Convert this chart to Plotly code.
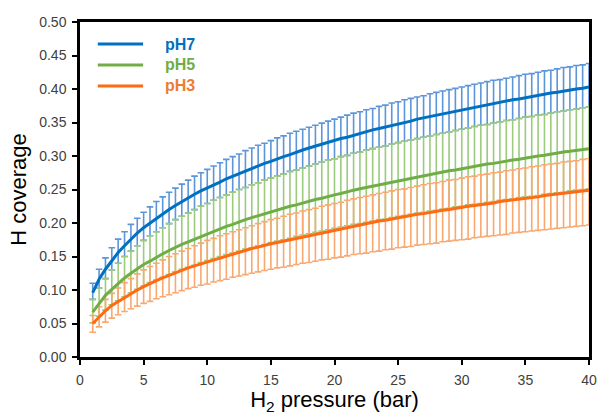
import plotly.graph_objects as go

# H2 pressure (bar)
pressure = [1, 1.5, 2, 2.5, 3, 3.5, 4, 4.5, 5, 5.5,
            6, 6.5, 7, 7.5, 8, 8.5, 9, 9.5, 10, 10.5,
            11, 11.5, 12, 12.5, 13, 13.5, 14, 14.5, 15, 15.5,
            16, 16.5, 17, 17.5, 18, 18.5, 19, 19.5, 20, 20.5,
            21, 21.5, 22, 22.5, 23, 23.5, 24, 24.5, 25, 25.5,
            26, 26.5, 27, 27.5, 28, 28.5, 29, 29.5, 30, 30.5,
            31, 31.5, 32, 32.5, 33, 33.5, 34, 34.5, 35, 35.5,
            36, 36.5, 37, 37.5, 38, 38.5, 39, 39.5, 40]

# pH7
ph7_mean = [0.096, 0.116, 0.131, 0.144, 0.156, 0.166, 0.176, 0.185, 0.193, 0.200,
            0.207, 0.214, 0.220, 0.226, 0.232, 0.237, 0.243, 0.248, 0.252, 0.257,
            0.261, 0.266, 0.270, 0.274, 0.278, 0.282, 0.285, 0.289, 0.292, 0.296,
            0.299, 0.302, 0.306, 0.309, 0.312, 0.315, 0.318, 0.320, 0.323, 0.326,
            0.328, 0.331, 0.334, 0.336, 0.339, 0.341, 0.343, 0.346, 0.348, 0.350,
            0.352, 0.355, 0.357, 0.359, 0.361, 0.363, 0.365, 0.367, 0.369, 0.371,
            0.373, 0.375, 0.376, 0.378, 0.380, 0.382, 0.384, 0.385, 0.387, 0.389,
            0.390, 0.392, 0.394, 0.395, 0.397, 0.398, 0.400, 0.401, 0.403]
ph7_upper = [0.110, 0.131, 0.148, 0.163, 0.176, 0.187, 0.198, 0.207, 0.216, 0.224,
             0.232, 0.239, 0.246, 0.252, 0.258, 0.264, 0.270, 0.275, 0.280, 0.285,
             0.290, 0.295, 0.299, 0.303, 0.308, 0.312, 0.316, 0.319, 0.323, 0.327,
             0.330, 0.334, 0.337, 0.340, 0.343, 0.346, 0.349, 0.352, 0.355, 0.358,
             0.361, 0.364, 0.366, 0.369, 0.371, 0.374, 0.376, 0.379, 0.381, 0.384,
             0.386, 0.388, 0.390, 0.393, 0.395, 0.397, 0.399, 0.401, 0.403, 0.405,
             0.407, 0.409, 0.411, 0.413, 0.414, 0.416, 0.418, 0.420, 0.422, 0.423,
             0.425, 0.427, 0.428, 0.430, 0.432, 0.433, 0.435, 0.436, 0.438]
ph7_lower = [0.086, 0.103, 0.117, 0.130, 0.140, 0.150, 0.158, 0.166, 0.174, 0.181,
             0.187, 0.193, 0.199, 0.205, 0.210, 0.215, 0.220, 0.225, 0.229, 0.234,
             0.238, 0.242, 0.246, 0.250, 0.253, 0.257, 0.260, 0.264, 0.267, 0.270,
             0.273, 0.277, 0.279, 0.282, 0.285, 0.288, 0.291, 0.294, 0.296, 0.299,
             0.301, 0.304, 0.306, 0.309, 0.311, 0.313, 0.315, 0.318, 0.320, 0.322,
             0.324, 0.326, 0.328, 0.330, 0.332, 0.334, 0.336, 0.338, 0.340, 0.342,
             0.344, 0.346, 0.347, 0.349, 0.351, 0.353, 0.354, 0.356, 0.358, 0.359,
             0.361, 0.362, 0.364, 0.366, 0.367, 0.369, 0.370, 0.372, 0.373]

# pH5
ph5_mean = [0.067, 0.080, 0.092, 0.101, 0.110, 0.118, 0.125, 0.132, 0.138, 0.143,
            0.149, 0.154, 0.159, 0.164, 0.168, 0.172, 0.176, 0.180, 0.184, 0.188,
            0.191, 0.195, 0.198, 0.202, 0.205, 0.208, 0.211, 0.214, 0.217, 0.219,
            0.222, 0.225, 0.227, 0.230, 0.232, 0.235, 0.237, 0.240, 0.242, 0.244,
            0.247, 0.249, 0.251, 0.253, 0.255, 0.257, 0.259, 0.261, 0.263, 0.265,
            0.267, 0.269, 0.271, 0.272, 0.274, 0.276, 0.278, 0.279, 0.281, 0.283,
            0.284, 0.286, 0.288, 0.289, 0.291, 0.292, 0.294, 0.295, 0.297, 0.298,
            0.300, 0.301, 0.303, 0.304, 0.306, 0.307, 0.308, 0.310, 0.311]
ph5_upper = [0.086, 0.103, 0.117, 0.130, 0.140, 0.150, 0.158, 0.166, 0.174, 0.181,
             0.187, 0.193, 0.199, 0.205, 0.210, 0.215, 0.220, 0.225, 0.229, 0.234,
             0.238, 0.242, 0.246, 0.250, 0.253, 0.257, 0.260, 0.264, 0.267, 0.270,
             0.273, 0.277, 0.279, 0.282, 0.285, 0.288, 0.291, 0.294, 0.296, 0.299,
             0.301, 0.304, 0.306, 0.309, 0.311, 0.313, 0.315, 0.318, 0.320, 0.322,
             0.324, 0.326, 0.328, 0.330, 0.332, 0.334, 0.336, 0.338, 0.340, 0.342,
             0.344, 0.346, 0.347, 0.349, 0.351, 0.353, 0.354, 0.356, 0.358, 0.359,
             0.361, 0.362, 0.364, 0.366, 0.367, 0.369, 0.370, 0.372, 0.373]
ph5_lower = [0.051, 0.061, 0.070, 0.078, 0.084, 0.090, 0.096, 0.101, 0.106, 0.111,
             0.115, 0.119, 0.123, 0.127, 0.131, 0.134, 0.137, 0.141, 0.144, 0.147,
             0.150, 0.153, 0.155, 0.158, 0.161, 0.163, 0.166, 0.168, 0.171, 0.173,
             0.175, 0.177, 0.180, 0.182, 0.184, 0.186, 0.188, 0.190, 0.192, 0.194,
             0.196, 0.198, 0.199, 0.201, 0.203, 0.205, 0.206, 0.208, 0.210, 0.211,
             0.213, 0.215, 0.216, 0.218, 0.219, 0.221, 0.222, 0.224, 0.225, 0.227,
             0.228, 0.229, 0.231, 0.232, 0.234, 0.235, 0.236, 0.238, 0.239, 0.240,
             0.241, 0.243, 0.244, 0.245, 0.246, 0.248, 0.249, 0.250, 0.251]

# pH3
ph3_mean = [0.050, 0.060, 0.069, 0.077, 0.083, 0.089, 0.095, 0.100, 0.105, 0.110,
            0.114, 0.118, 0.122, 0.126, 0.129, 0.133, 0.136, 0.139, 0.142, 0.145,
            0.148, 0.151, 0.154, 0.156, 0.159, 0.162, 0.164, 0.167, 0.169, 0.171,
            0.173, 0.176, 0.178, 0.180, 0.182, 0.184, 0.186, 0.188, 0.190, 0.192,
            0.194, 0.196, 0.197, 0.199, 0.201, 0.203, 0.204, 0.206, 0.208, 0.209,
            0.211, 0.213, 0.214, 0.216, 0.217, 0.219, 0.220, 0.222, 0.223, 0.225,
            0.226, 0.227, 0.229, 0.230, 0.232, 0.233, 0.234, 0.236, 0.237, 0.238,
            0.239, 0.241, 0.242, 0.243, 0.244, 0.246, 0.247, 0.248, 0.249]
ph3_upper = [0.062, 0.075, 0.086, 0.095, 0.103, 0.111, 0.117, 0.124, 0.130, 0.135,
             0.140, 0.145, 0.150, 0.154, 0.158, 0.162, 0.166, 0.170, 0.174, 0.177,
             0.181, 0.184, 0.187, 0.190, 0.193, 0.196, 0.199, 0.202, 0.205, 0.207,
             0.210, 0.213, 0.215, 0.218, 0.220, 0.222, 0.225, 0.227, 0.229, 0.231,
             0.234, 0.236, 0.238, 0.240, 0.242, 0.244, 0.246, 0.248, 0.250, 0.251,
             0.253, 0.255, 0.257, 0.259, 0.260, 0.262, 0.264, 0.265, 0.267, 0.269,
             0.270, 0.272, 0.273, 0.275, 0.276, 0.278, 0.279, 0.281, 0.282, 0.284,
             0.285, 0.287, 0.288, 0.289, 0.291, 0.292, 0.293, 0.295, 0.296]
ph3_lower = [0.037, 0.045, 0.052, 0.058, 0.063, 0.068, 0.072, 0.076, 0.080, 0.083,
             0.087, 0.090, 0.093, 0.096, 0.099, 0.102, 0.104, 0.107, 0.109, 0.112,
             0.114, 0.116, 0.119, 0.121, 0.123, 0.125, 0.127, 0.129, 0.131, 0.133,
             0.134, 0.136, 0.138, 0.140, 0.141, 0.143, 0.145, 0.146, 0.148, 0.149,
             0.151, 0.153, 0.154, 0.155, 0.157, 0.158, 0.160, 0.161, 0.163, 0.164,
             0.165, 0.167, 0.168, 0.169, 0.170, 0.172, 0.173, 0.174, 0.175, 0.176,
             0.178, 0.179, 0.180, 0.181, 0.182, 0.183, 0.185, 0.186, 0.187, 0.188,
             0.189, 0.190, 0.191, 0.192, 0.193, 0.194, 0.195, 0.196, 0.197]

series_names = ["pH7", "pH5", "pH3"]
line_colors = ["#0070C0", "#70AD47", "#FF6A13"]
bar_colors = ["#5C95DA", "#9CCB7D", "#F9A86F"]
legend_text_colors = ["#0070C0", "#70AD47", "#ED7D31"]

means = [ph7_mean, ph5_mean, ph3_mean]
uppers = [ph7_upper, ph5_upper, ph3_upper]
lowers = [ph7_lower, ph5_lower, ph3_lower]

FONT = "Liberation Sans, Arial, sans-serif"

fig = go.Figure()

# error bars first (pH7, pH5, pH3 order so later series overlay earlier ones)
for name, m, u, lo, bc in zip(series_names, means, uppers, lowers, bar_colors):
    plus = [round(a - b, 4) for a, b in zip(u, m)]
    minus = [round(b - c, 4) for b, c in zip(m, lo)]
    fig.add_trace(go.Scatter(
        x=pressure, y=m, mode="markers",
        marker=dict(size=1, opacity=0),
        error_y=dict(type="data", symmetric=False, array=plus, arrayminus=minus,
                     color=bc, thickness=1.6, width=3.3),
        showlegend=False, hoverinfo="skip", name=name + " error"))

# mean lines on top
for name, m, lc in zip(series_names, means, line_colors):
    fig.add_trace(go.Scatter(
        x=pressure, y=m, mode="lines", name=name,
        line=dict(color=lc, width=3), showlegend=False))

# manual legend (layout decoration)
legend_y = [0.934, 0.872, 0.809]
shapes = []
annotations = []
for name, lc, tc, ly in zip(series_names, line_colors, legend_text_colors, legend_y):
    shapes.append(dict(type="line", xref="paper", yref="paper",
                       x0=0.035, x1=0.124, y0=ly, y1=ly,
                       line=dict(color=lc, width=3)))
    annotations.append(dict(xref="paper", yref="paper", x=0.163, y=ly,
                            xanchor="left", yanchor="middle", showarrow=False,
                            text="<b>" + name + "</b>",
                            font=dict(family=FONT, size=16, color=tc)))

axis_common = dict(
    showline=True, linecolor="black", linewidth=2.5, mirror=True,
    ticks="outside", ticklen=5, tickwidth=2, tickcolor="black",
    showgrid=False, zeroline=False, ticklabelstandoff=3,
    tickfont=dict(family=FONT, size=14, color="#404040"),
)

fig.update_layout(
    width=598, height=415,
    margin=dict(l=80, r=9, t=22, b=58),
    paper_bgcolor="white", plot_bgcolor="white",
    font=dict(family=FONT),
    shapes=shapes, annotations=annotations,
    xaxis=dict(range=[0, 40], tick0=0, dtick=5, automargin=False,
               title=dict(text="H<sub>2</sub> pressure (bar)",
                          font=dict(family=FONT, size=22, color="black"),
                          standoff=9),
               **axis_common),
    yaxis=dict(range=[0, 0.5], tick0=0, dtick=0.05, tickformat=".2f",
               automargin=False,
               title=dict(text="H coverage",
                          font=dict(family=FONT, size=22, color="black"),
                          standoff=7),
               **axis_common),
)

# remove the default page margin so the 598x415 figure fills the window
fig.write_html(
    "out.html",
    config={"displayModeBar": False},
    post_script="document.body.style.margin='0';"
                "document.body.style.overflow='hidden';",
)
